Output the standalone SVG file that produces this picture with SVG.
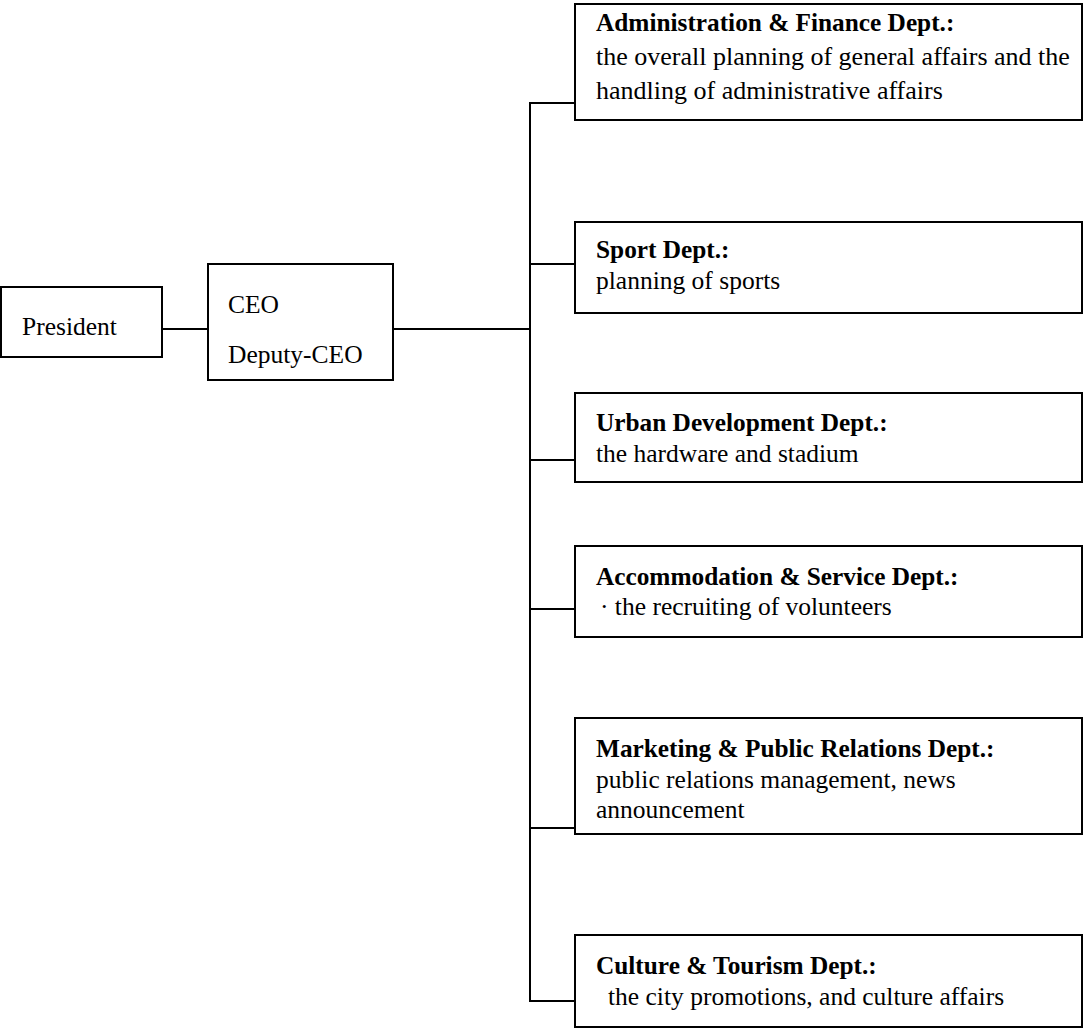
<svg xmlns="http://www.w3.org/2000/svg" width="1084" height="1030" viewBox="0 0 1084 1030">
<style>
.box{fill:#fff;stroke:#000;stroke-width:2}
.ln{fill:none;stroke:#000;stroke-width:2}
text{font-family:"Liberation Serif","Times New Roman",serif;font-size:25.5px;fill:#000}
.b{font-weight:bold;font-size:25.3px}
.w{font-size:26px}
</style>
<rect width="1084" height="1030" fill="#fff"/>
<g id="connectors">
<line class="ln" x1="162" y1="329" x2="208" y2="329"/>
<line class="ln" x1="393" y1="329" x2="530" y2="329"/>
<polyline class="ln" points="575,103 530,103 530,1001 575,1001"/>
<line class="ln" x1="530" y1="264" x2="575" y2="264"/>
<line class="ln" x1="530" y1="460" x2="575" y2="460"/>
<line class="ln" x1="530" y1="609" x2="575" y2="609"/>
<line class="ln" x1="530" y1="828" x2="575" y2="828"/>
</g>
<g id="president">
<rect class="box" x="1" y="287" width="161" height="70"/>
<text x="22" y="335">President</text>
</g>
<g id="ceo">
<rect class="box" x="208" y="264" width="185" height="116"/>
<text x="228" y="313">CEO</text>
<text x="228" y="363">Deputy-CEO</text>
</g>
<g id="admin">
<rect class="box" x="575" y="4" width="507" height="116"/>
<text class="b" x="596" y="31">Administration &amp; Finance Dept.:</text>
<text class="w" x="596" y="65">the overall planning of general affairs and the</text>
<text class="w" x="596" y="99">handling of administrative affairs</text>
</g>
<g id="sport">
<rect class="box" x="575" y="222" width="507" height="91"/>
<text class="b" x="596" y="258">Sport Dept.:</text>
<text x="596" y="289">planning of sports</text>
</g>
<g id="urban">
<rect class="box" x="575" y="393" width="507" height="89"/>
<text class="b" x="596" y="431">Urban Development Dept.:</text>
<text x="596" y="462">the hardware and stadium</text>
</g>
<g id="accommodation">
<rect class="box" x="575" y="546" width="507" height="91"/>
<text class="b" x="596" y="585">Accommodation &amp; Service Dept.:</text>
<text x="600" y="615">· the recruiting of volunteers</text>
</g>
<g id="marketing">
<rect class="box" x="575" y="718" width="507" height="116"/>
<text class="b" x="596" y="757">Marketing &amp; Public Relations Dept.:</text>
<text x="596" y="788">public relations management, news</text>
<text x="596" y="818">announcement</text>
</g>
<g id="culture">
<rect class="box" x="575" y="935" width="507" height="92"/>
<text class="b" x="596" y="974">Culture &amp; Tourism Dept.:</text>
<text x="608" y="1005">the city promotions, and culture affairs</text>
</g>
</svg>
